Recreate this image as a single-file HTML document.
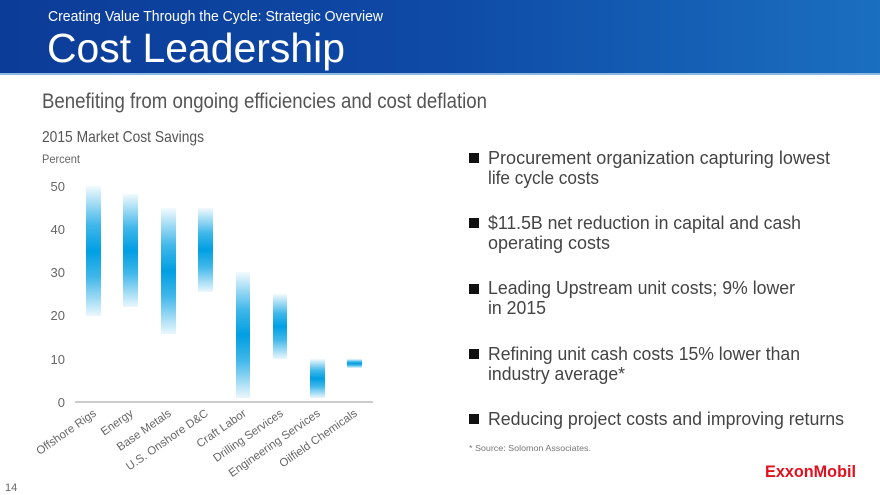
<!DOCTYPE html>
<html><head><meta charset="utf-8"><style>
html,body{margin:0;padding:0;background:#fff;}
svg{display:block;font-family:"Liberation Sans",sans-serif;}
</style></head><body>
<svg width="880" height="495" viewBox="0 0 880 495" xmlns="http://www.w3.org/2000/svg">
<defs>
<linearGradient id="hdr" x1="0" y1="0" x2="1" y2="0">
<stop offset="0" stop-color="#0b3c98"/><stop offset="0.5" stop-color="#0e4aa6"/><stop offset="1" stop-color="#1a6fc0"/>
</linearGradient>
<linearGradient id="bar" x1="0" y1="0" x2="0" y2="1">
<stop offset="0" stop-color="#009fe3" stop-opacity="0.05"/>
<stop offset="0.3" stop-color="#009fe3" stop-opacity="0.75"/>
<stop offset="0.5" stop-color="#009fe3" stop-opacity="1"/>
<stop offset="0.7" stop-color="#009fe3" stop-opacity="0.75"/>
<stop offset="1" stop-color="#009fe3" stop-opacity="0.08"/>
</linearGradient>
</defs>
<rect x="0" y="0" width="880" height="74" fill="url(#hdr)"/>
<rect x="0" y="73" width="880" height="2" fill="#8fb8e0"/>
<text x="48" y="21" font-size="14.5" fill="#fff" textLength="335" lengthAdjust="spacingAndGlyphs">Creating Value Through the Cycle: Strategic Overview</text>
<text x="47" y="62" font-size="41" fill="#fff" textLength="298" lengthAdjust="spacingAndGlyphs">Cost Leadership</text>
<text x="42" y="108" font-size="21" fill="#555" textLength="445" lengthAdjust="spacingAndGlyphs">Benefiting from ongoing efficiencies and cost deflation</text>
<text x="42" y="142" font-size="16" fill="#555" textLength="162" lengthAdjust="spacingAndGlyphs">2015 Market Cost Savings</text>
<text x="42" y="163" font-size="11.5" fill="#666" textLength="38" lengthAdjust="spacingAndGlyphs">Percent</text>
<g font-size="13" fill="#666" text-anchor="end">
<text x="65" y="191">50</text><text x="65" y="234">40</text><text x="65" y="277">30</text>
<text x="65" y="320">20</text><text x="65" y="364">10</text><text x="65" y="407">0</text>
</g>
<line x1="75" y1="402" x2="373" y2="402" stroke="#999" stroke-width="1"/>
<rect x="86" y="186" width="15" height="130" fill="url(#bar)"/>
<rect x="123" y="194" width="15" height="113" fill="url(#bar)"/>
<rect x="161" y="208" width="15" height="126" fill="url(#bar)"/>
<rect x="198" y="208" width="15" height="84" fill="url(#bar)"/>
<rect x="236" y="272" width="14" height="126" fill="url(#bar)"/>
<rect x="273" y="294" width="14" height="65" fill="url(#bar)"/>
<rect x="310" y="359" width="15" height="39" fill="url(#bar)"/>
<rect x="347" y="359" width="15" height="9" fill="url(#bar)"/>
<g font-size="11.5" fill="#666" text-anchor="end">
<text transform="translate(97,415) rotate(-35)">Offshore Rigs</text>
<text transform="translate(134,415) rotate(-35)">Energy</text>
<text transform="translate(172,415) rotate(-35)">Base Metals</text>
<text transform="translate(209,415) rotate(-35)">U.S. Onshore D&amp;C</text>
<text transform="translate(247,415) rotate(-35)">Craft Labor</text>
<text transform="translate(284,415) rotate(-35)">Drilling Services</text>
<text transform="translate(321,415) rotate(-35)">Engineering Services</text>
<text transform="translate(358,415) rotate(-35)">Oilfield Chemicals</text>
</g>
<g fill="#111"><rect x="469" y="153" width="10" height="10"/><rect x="469" y="218" width="10" height="10"/><rect x="469" y="284" width="10" height="10"/><rect x="469" y="349" width="10" height="10"/><rect x="469" y="414" width="10" height="10"/></g>
<g font-size="18" fill="#444">
<text x="488" y="164" textLength="342" lengthAdjust="spacingAndGlyphs">Procurement organization capturing lowest</text>
<text x="488" y="184" textLength="111" lengthAdjust="spacingAndGlyphs">life cycle costs</text>
<text x="488" y="229" textLength="313" lengthAdjust="spacingAndGlyphs">$11.5B net reduction in capital and cash</text>
<text x="488" y="249" textLength="122" lengthAdjust="spacingAndGlyphs">operating costs</text>
<text x="488" y="294" textLength="307" lengthAdjust="spacingAndGlyphs">Leading Upstream unit costs; 9% lower</text>
<text x="488" y="314" textLength="58" lengthAdjust="spacingAndGlyphs">in 2015</text>
<text x="488" y="360" textLength="312" lengthAdjust="spacingAndGlyphs">Refining unit cash costs 15% lower than</text>
<text x="488" y="380" textLength="137" lengthAdjust="spacingAndGlyphs">industry average*</text>
<text x="488" y="425" textLength="356" lengthAdjust="spacingAndGlyphs">Reducing project costs and improving returns</text>
</g>
<text x="469" y="451" font-size="8.5" fill="#777" textLength="122" lengthAdjust="spacingAndGlyphs">*  Source: Solomon Associates.</text>
<text x="765" y="477" font-size="17" font-weight="bold" fill="#e3101e" textLength="91" lengthAdjust="spacingAndGlyphs">ExxonMobil</text>
<text x="5" y="491" font-size="11" fill="#666">14</text>
</svg>
</body></html>
